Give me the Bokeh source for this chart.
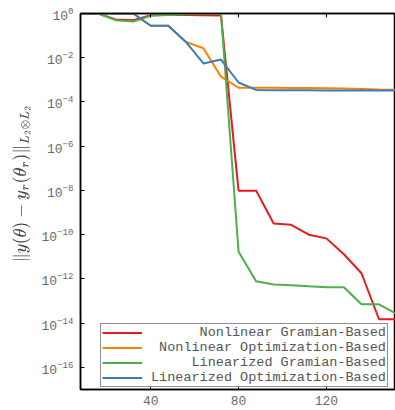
from bokeh.plotting import figure
from bokeh.models import (Range1d, FixedTicker, LinearAxis, Legend,
                          LegendItem, CustomJSTickFormatter)
from bokeh.embed import file_html
from bokeh.resources import INLINE

# ---- data ----
x_vals = [8, 16, 24, 32, 40, 48, 56, 64, 72, 80, 88, 96, 104, 112, 120, 128, 136, 144, 152]

nonlinear_gramian = [1.0, 1.0, 0.54, 0.50, 0.83, 0.87, 0.85, 0.83, 0.81,
                     9.8e-9, 9.8e-9, 3.2e-10, 2.8e-10, 1.0e-10, 6.8e-11,
                     1.3e-11, 1.8e-12, 1.5e-14, 1.5e-14]
nonlinear_optim = [1.0, 1.0, 1.0, 1.0, 0.28, 0.28, 0.052, 0.027, 1.4e-3,
                   4.4e-4, 4.4e-4, 4.4e-4, 4.3e-4, 4.3e-4, 4.2e-4,
                   4.1e-4, 3.9e-4, 3.7e-4, 3.6e-4]
linearized_gramian = [1.0, 1.0, 0.50, 0.43, 0.79, 0.85, 0.93, 0.98, 1.0,
                      1.7e-11, 7.8e-13, 5.6e-13, 5.2e-13, 4.6e-13, 4.2e-13,
                      4.2e-13, 7.1e-14, 7.1e-14, 2.6e-14]
linearized_optim = [1.0, 1.0, 1.0, 1.0, 0.28, 0.28, 0.052, 5.5e-3, 8.3e-3,
                    7.6e-4, 3.5e-4, 3.4e-4, 3.4e-4, 3.35e-4, 3.3e-4,
                    3.3e-4, 3.3e-4, 3.3e-4, 3.3e-4]

series_labels = ["Nonlinear Gramian-Based", "Nonlinear Optimization-Based",
                 "Linearized Gramian-Based", "Linearized Optimization-Based"]
series_colors = ["#e41a1c", "#ff7f00", "#4daf4a", "#377eb8"]
x_ticks = [40, 80, 120]
y_ticks = [1e0, 1e-2, 1e-4, 1e-6, 1e-8, 1e-10, 1e-12, 1e-14, 1e-16]

MONO = "Liberation Mono"
GREY = "#6a6a6a"

p = figure(width=395, height=410, y_axis_type="log",
           x_range=Range1d(8, 151.5), y_range=Range1d(1e-17, 1.0),
           output_backend="svg", toolbar_location=None,
           min_border_left=80, min_border_right=0, min_border_top=13,
           min_border_bottom=21)
p.xgrid.visible = False
p.ygrid.visible = False
p.outline_line_color = "black"
p.outline_line_width = 1.5

renderers = []
for ys, col in zip([nonlinear_gramian, nonlinear_optim, linearized_gramian, linearized_optim],
                   series_colors):
    r = p.line(x_vals, ys, line_color=col, line_width=2)
    renderers.append(r)

# axes styling
for ax in (p.xaxis[0], p.yaxis[0]):
    ax.major_tick_in = 4
    ax.major_tick_out = 0
    ax.minor_tick_in = 0
    ax.minor_tick_out = 0
    ax.axis_line_color = "black"
    ax.axis_line_width = 1.5
    ax.major_label_text_font = MONO
    ax.major_label_text_font_size = "13px"
    ax.major_label_text_color = GREY
p.xaxis[0].ticker = FixedTicker(ticks=x_ticks)
p.yaxis[0].ticker = FixedTicker(ticks=y_ticks)
p.xaxis[0].major_label_standoff = 6
p.yaxis[0].major_label_standoff = 7
p.yaxis[0].axis_label = r"$$\hspace{2em}\|y(\theta)-y_r(\theta_r)\|_{L_2\otimes L_2}$$"
p.yaxis[0].axis_label_text_font_size = "14px"
p.yaxis[0].axis_label_standoff = 8

blank = CustomJSTickFormatter(code="return ''")
top_ax = LinearAxis(ticker=FixedTicker(ticks=x_ticks), formatter=blank,
                    major_tick_in=4, major_tick_out=0, minor_tick_in=0, minor_tick_out=0,
                    major_label_standoff=0, axis_line_color="black", axis_line_width=1.5)
p.add_layout(top_ax, "above")

NB = "\u00a0"
maxlen = max(len(s) for s in series_labels)
items = [LegendItem(label=NB * (maxlen - len(s)) + s, renderers=[r])
         for s, r in zip(series_labels, renderers)]
legend = Legend(items=items, location=(20, 2), margin=0, padding=1,
                spacing=0, glyph_width=40, glyph_height=13, label_height=13,
                label_standoff=9, label_text_font=MONO, label_text_font_size="13.5px",
                label_text_color="#555555", border_line_color="#222222",
                border_line_width=1.5, background_fill_alpha=1.0)
p.add_layout(legend, "center")

open("out.html", "w").write(file_html(p, INLINE))
